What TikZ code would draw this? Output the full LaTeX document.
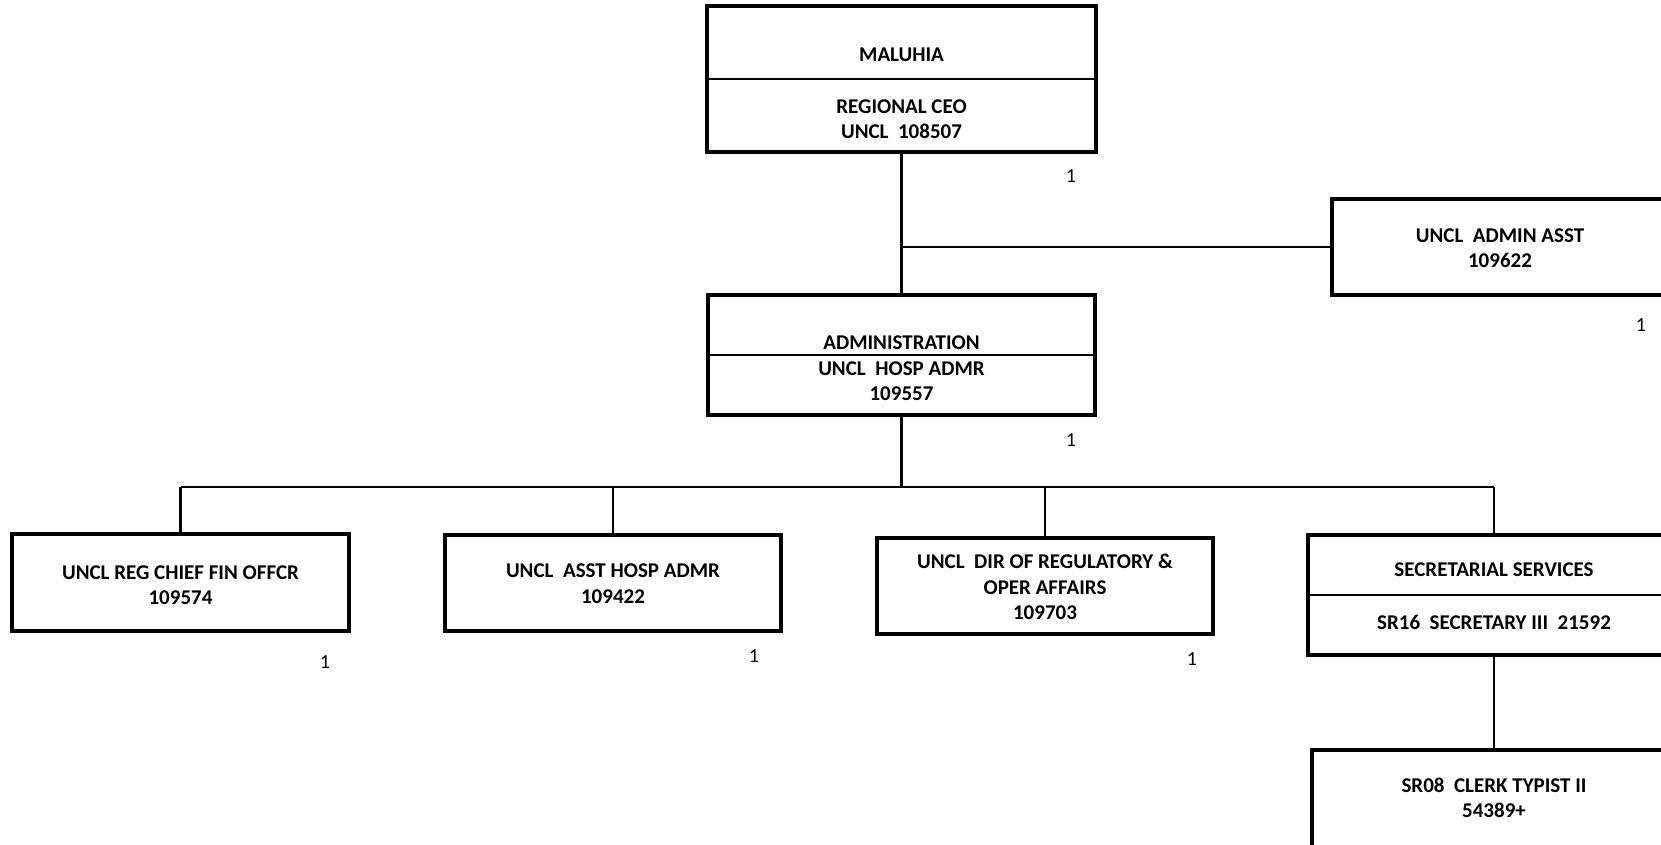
\documentclass[tikz,border=0pt]{standalone}
\usepackage{fontspec}
\setmainfont{Carlito}
\usetikzlibrary{positioning}

\begin{document}
\begin{tikzpicture}[x=1pt, y=-1pt,
  box/.style={draw, line width=3.2pt, inner sep=0pt},
  post/.style={font=\bfseries\fontsize{21}{25.5}\selectfont, align=center, inner sep=0pt},
  cnt/.style={font=\fontsize{20}{22}\selectfont, inner sep=0pt},
  wire/.style={line width=2.2pt}]
\useasboundingbox (0,0) rectangle (1661,844);
\clip (0,0) rectangle (1661,844);

% Boxes
\node[box, minimum width=389pt, minimum height=146pt] (ceo) at (901.5,79) {};
\node[box, minimum width=387pt, minimum height=120pt] (admin) at (901.5,355) {};
\node[box, minimum width=389pt, minimum height=96pt] (admAsst) at (1526.5,247) {};
\node[box, minimum width=337pt, minimum height=97pt] (cfo) at (180.5,582.5) {};
\node[box, minimum width=336pt, minimum height=96pt] (asstAdmr) at (613,583) {};
\node[box, minimum width=336pt, minimum height=96pt] (dirReg) at (1045,586) {};
\node[box, minimum width=372pt, minimum height=120pt] (secr) at (1494,595) {};
\node[box, minimum width=364pt, minimum height=110pt] (typist) at (1494,805) {};

% Dividers
\foreach \n in {ceo,admin,secr}
  \draw[wire] (\n.west) -- (\n.east);

% Texts
\node[post] (ceoA) at (901.5,55) {MALUHIA};
\node[post] (ceoB) at (901.5,119) {REGIONAL CEO\\UNCL~~108507};
\node[post] (adminA) at (901.5,343) {ADMINISTRATION};
\node[post] (adminB) at (901.5,381) {UNCL~~HOSP ADMR\\109557};
\node[post] (admAsstT) at (1500,248) {UNCL~~ADMIN ASST\\109622};
\node[post] (cfoT) at (180.5,585) {UNCL REG CHIEF FIN OFFCR\\109574};
\node[post] (asstAdmrT) at (613,583.5) {UNCL~~ASST HOSP ADMR\\109422};
\node[post] (dirRegT) at (1045,587) {UNCL~~DIR OF REGULATORY \&\\OPER AFFAIRS\\109703};
\node[post] (secrA) at (1494,570) {SECRETARIAL SERVICES};
\node[post] (secrB) at (1494,622) {SR16~~SECRETARY III~~21592};
\node[post] (typistT) at (1494,798) {SR08~~CLERK TYPIST II\\54389+};

% Head counts
\node[cnt] (n1) at (1071,176) {1};
\node[cnt] (n2) at (1071,440) {1};
\node[cnt] (n3) at (1641,325) {1};
\node[cnt] (n4) at (325,662) {1};
\node[cnt] (n5) at (754,656) {1};
\node[cnt] (n6) at (1192,659) {1};
\node[cnt] (n7) at (1666,683) {1};

% Connectors
\coordinate (bus) at (901.5,487);
\draw[wire] (ceo.south) -- (admin.north);
\draw[wire] (ceo.south |- admAsst.west) -- (admAsst.west);
\draw[wire] (admin.south) -- (bus);
\draw[wire] (cfo.north |- bus) -- (secr.north |- bus);
\foreach \n in {cfo,asstAdmr,dirReg,secr}
  \draw[wire] (\n.north) -- (\n.north |- bus);
\draw[wire] (secr.south) -- (typist.north);
\end{tikzpicture}
\end{document}
